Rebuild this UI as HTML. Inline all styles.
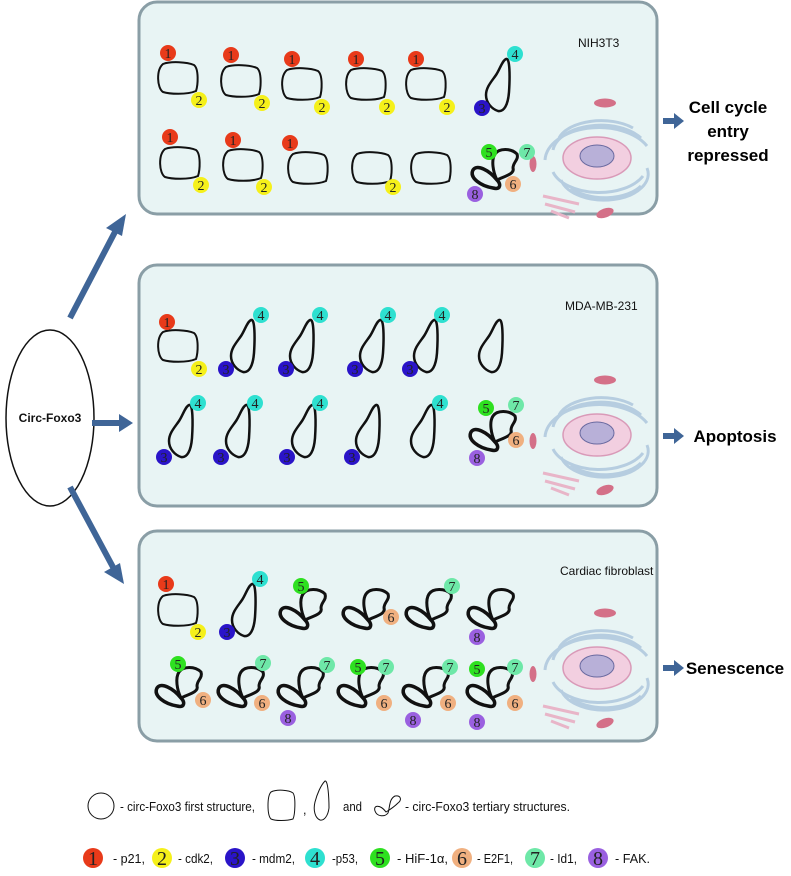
<!DOCTYPE html>
<html><head><meta charset="utf-8"><style>
html,body{margin:0;padding:0;background:#fff;}
svg{display:block;}
.b{font-family:"Liberation Serif",serif;font-size:14px;fill:#222;text-anchor:middle;}
.l{font-family:"Liberation Sans",sans-serif;font-size:12.5px;fill:#111;}
.r{font-family:"Liberation Sans",sans-serif;font-size:17px;font-weight:bold;fill:#000;text-anchor:middle;}
.g{font-family:"Liberation Serif",serif;font-size:20px;fill:#222;text-anchor:middle;}
</style></head><body>
<svg width="791" height="876" viewBox="0 0 791 876" xmlns="http://www.w3.org/2000/svg">
<defs>
<path id="sq" d="M6,4 C14,1 30,2 37,5 C42,9 41,25 39,31 C30,35 12,34 6,32 C0,28 -1,10 6,4Z" fill="none" stroke="#111" stroke-width="2"/>
<path id="td" d="M22,2 C26,0 26,20 25,35 C24,48 20,55 14,54 C8,52 2,46 2,38 C2,30 8,24 12,18 C16,12 18,4 22,2Z" fill="none" stroke="#111" stroke-width="2.5"/>
<g id="f8" fill="none" stroke="#111" stroke-width="3">
<path d="M26,32 C18,22 6,16 2,22 C-2,30 10,38 22,40 C30,42 30,36 26,32 Z" stroke-width="3.5"/>
<path d="M26,32 C22,24 20,12 24,6 C28,0 40,0 46,6 C48,12 42,14 42,20 C44,26 34,28 26,32"/>
</g>
<g id="cell">
<ellipse cx="0" cy="0" rx="34" ry="21" fill="#f2cfe0" stroke="#d99ab8" stroke-width="1.5"/>
<ellipse cx="0" cy="-2" rx="17" ry="11" fill="#b8b0d8" stroke="#6a6aa0" stroke-width="1"/>
<path d="M-44,-8 A48,28 0 0 1 44,-20" fill="none" stroke="#b6cde0" stroke-width="3"/>
<path d="M-52,2 A54,34 0 0 1 50,-12" fill="none" stroke="#b6cde0" stroke-width="3"/>
<path d="M-38,-20 A44,24 0 0 1 36,-30" fill="none" stroke="#b6cde0" stroke-width="3"/>
<path d="M-44,14 A48,28 0 0 0 46,18" fill="none" stroke="#b6cde0" stroke-width="3"/>
<path d="M-36,22 A44,26 0 0 0 50,10" fill="none" stroke="#b6cde0" stroke-width="3"/>
<path d="M-26,30 A42,24 0 0 0 44,28" fill="none" stroke="#b6cde0" stroke-width="3"/>
<path d="M-54,38 L-18,46 M-52,46 L-22,54 M-46,53 L-28,60" stroke="#e8b5c8" stroke-width="3" fill="none"/>
<ellipse cx="8" cy="-55" rx="11" ry="4.5" fill="#d47088"/>
<ellipse cx="-64" cy="6" rx="3.5" ry="8" fill="#d47088"/>
<ellipse cx="8" cy="55" rx="9" ry="4.5" fill="#d47088" transform="rotate(-20 8 55)"/>
</g>
</defs>

<rect x="139" y="2" width="518" height="212" rx="18" fill="#e8f4f4" stroke="#8a9ea6" stroke-width="3"/>
<rect x="139" y="265" width="518" height="241" rx="18" fill="#e8f4f4" stroke="#8a9ea6" stroke-width="3"/>
<rect x="139" y="531" width="518" height="210" rx="18" fill="#e8f4f4" stroke="#8a9ea6" stroke-width="3"/>

<text x="578" y="47" class="l" style="font-size:12px">NIH3T3</text>
<text x="565" y="310" class="l" style="font-size:12px">MDA-MB-231</text>
<text x="560" y="575" class="l" style="font-size:12px">Cardiac fibroblast</text>

<use href="#cell" transform="translate(597,158)"/>
<use href="#cell" transform="translate(597,435)"/>
<use href="#cell" transform="translate(597,668)"/>

<ellipse cx="50" cy="418" rx="44" ry="88" fill="#fff" stroke="#111" stroke-width="1.5"/>
<text x="50" y="422" class="l" style="font-size:12px;font-weight:bold;text-anchor:middle">Circ-Foxo3</text>
<g stroke="#3f6597" stroke-width="6">
<line x1="70" y1="318" x2="116" y2="230"/>
<line x1="92" y1="423" x2="120" y2="423"/>
<line x1="70" y1="487" x2="114" y2="569"/>
</g>
<polygon points="126,214 106,228 122,236" fill="#3f6597"/>
<polygon points="133,423 119,414 119,432" fill="#3f6597"/>
<polygon points="124,584 104,572 120,563" fill="#3f6597"/>

<g fill="#3f6597">
<rect x="663" y="118" width="12" height="6"/><polygon points="674,113 684,121 674,129"/>
<rect x="663" y="433" width="12" height="6"/><polygon points="674,428 684,436 674,444"/>
<rect x="663" y="665" width="12" height="6"/><polygon points="674,660 684,668 674,676"/>
</g>
<text x="728" y="113" class="r">Cell cycle</text>
<text x="728" y="137" class="r">entry</text>
<text x="728" y="161" class="r">repressed</text>
<text x="735" y="442" class="r">Apoptosis</text>
<text x="735" y="674" class="r">Senescence</text>

<use href="#sq" x="157" y="60"/><use href="#sq" x="220" y="63"/><use href="#sq" x="281" y="66"/><use href="#sq" x="345" y="66"/><use href="#sq" x="405" y="66"/>
<use href="#sq" x="159" y="145"/><use href="#sq" x="222" y="147"/><use href="#sq" x="287" y="150"/><use href="#sq" x="351" y="150"/><use href="#sq" x="410" y="150"/>
<use href="#td" x="484" y="57"/>
<use href="#f8" x="471" y="148"/>

<use href="#sq" x="157" y="328"/>
<use href="#td" x="229" y="318"/><use href="#td" x="288" y="318"/><use href="#td" x="358" y="318"/><use href="#td" x="412" y="318"/><use href="#td" x="477" y="318"/>
<use href="#td" x="167" y="403"/><use href="#td" x="224" y="403"/><use href="#td" x="290" y="403"/><use href="#td" x="354" y="403"/><use href="#td" x="409" y="403"/>
<use href="#f8" x="469" y="410"/>

<use href="#sq" x="157" y="592"/>
<use href="#td" x="230" y="582"/>
<use href="#f8" x="279" y="588"/><use href="#f8" x="342" y="588"/><use href="#f8" x="405" y="588"/><use href="#f8" x="467" y="588"/>
<use href="#f8" x="155" y="666"/><use href="#f8" x="217" y="666"/><use href="#f8" x="277" y="666"/><use href="#f8" x="337" y="666"/><use href="#f8" x="402" y="666"/><use href="#f8" x="466" y="666"/>

<g>
<circle cx="168" cy="53" r="8" fill="#e83a1a"/><text x="168" y="58" class="b">1</text>
<circle cx="199" cy="100" r="8" fill="#f5f01a"/><text x="199" y="105" class="b">2</text>
<circle cx="231" cy="55" r="8" fill="#e83a1a"/><text x="231" y="60" class="b">1</text>
<circle cx="262" cy="103" r="8" fill="#f5f01a"/><text x="262" y="108" class="b">2</text>
<circle cx="292" cy="59" r="8" fill="#e83a1a"/><text x="292" y="64" class="b">1</text>
<circle cx="322" cy="107" r="8" fill="#f5f01a"/><text x="322" y="112" class="b">2</text>
<circle cx="356" cy="59" r="8" fill="#e83a1a"/><text x="356" y="64" class="b">1</text>
<circle cx="387" cy="107" r="8" fill="#f5f01a"/><text x="387" y="112" class="b">2</text>
<circle cx="416" cy="59" r="8" fill="#e83a1a"/><text x="416" y="64" class="b">1</text>
<circle cx="447" cy="107" r="8" fill="#f5f01a"/><text x="447" y="112" class="b">2</text>
<circle cx="515" cy="54" r="8" fill="#2ee0d0"/><text x="515" y="59" class="b">4</text>
<circle cx="482" cy="108" r="8" fill="#2a14c8"/><text x="482" y="113" class="b">3</text>
<circle cx="170" cy="137" r="8" fill="#e83a1a"/><text x="170" y="142" class="b">1</text>
<circle cx="201" cy="185" r="8" fill="#f5f01a"/><text x="201" y="190" class="b">2</text>
<circle cx="233" cy="140" r="8" fill="#e83a1a"/><text x="233" y="145" class="b">1</text>
<circle cx="264" cy="187" r="8" fill="#f5f01a"/><text x="264" y="192" class="b">2</text>
<circle cx="290" cy="143" r="8" fill="#e83a1a"/><text x="290" y="148" class="b">1</text>
<circle cx="393" cy="187" r="8" fill="#f5f01a"/><text x="393" y="192" class="b">2</text>
<circle cx="489" cy="152" r="8" fill="#2ee020"/><text x="489" y="157" class="b">5</text>
<circle cx="527" cy="152" r="8" fill="#6ee8a8"/><text x="527" y="157" class="b">7</text>
<circle cx="513" cy="184" r="8" fill="#f0b080"/><text x="513" y="189" class="b">6</text>
<circle cx="475" cy="194" r="8" fill="#9a60e0"/><text x="475" y="199" class="b">8</text>

<circle cx="167" cy="322" r="8" fill="#e83a1a"/><text x="167" y="327" class="b">1</text>
<circle cx="199" cy="369" r="8" fill="#f5f01a"/><text x="199" y="374" class="b">2</text>
<circle cx="261" cy="315" r="8" fill="#2ee0d0"/><text x="261" y="320" class="b">4</text><circle cx="226" cy="369" r="8" fill="#2a14c8"/><text x="226" y="374" class="b">3</text>
<circle cx="320" cy="315" r="8" fill="#2ee0d0"/><text x="320" y="320" class="b">4</text><circle cx="286" cy="369" r="8" fill="#2a14c8"/><text x="286" y="374" class="b">3</text>
<circle cx="388" cy="315" r="8" fill="#2ee0d0"/><text x="388" y="320" class="b">4</text><circle cx="355" cy="369" r="8" fill="#2a14c8"/><text x="355" y="374" class="b">3</text>
<circle cx="442" cy="315" r="8" fill="#2ee0d0"/><text x="442" y="320" class="b">4</text><circle cx="410" cy="369" r="8" fill="#2a14c8"/><text x="410" y="374" class="b">3</text>
<circle cx="198" cy="403" r="8" fill="#2ee0d0"/><text x="198" y="408" class="b">4</text><circle cx="164" cy="457" r="8" fill="#2a14c8"/><text x="164" y="462" class="b">3</text>
<circle cx="255" cy="403" r="8" fill="#2ee0d0"/><text x="255" y="408" class="b">4</text><circle cx="221" cy="457" r="8" fill="#2a14c8"/><text x="221" y="462" class="b">3</text>
<circle cx="320" cy="403" r="8" fill="#2ee0d0"/><text x="320" y="408" class="b">4</text><circle cx="287" cy="457" r="8" fill="#2a14c8"/><text x="287" y="462" class="b">3</text>
<circle cx="352" cy="457" r="8" fill="#2a14c8"/><text x="352" y="462" class="b">3</text>
<circle cx="440" cy="403" r="8" fill="#2ee0d0"/><text x="440" y="408" class="b">4</text>
<circle cx="486" cy="408" r="8" fill="#2ee020"/><text x="486" y="413" class="b">5</text>
<circle cx="516" cy="405" r="8" fill="#6ee8a8"/><text x="516" y="410" class="b">7</text>
<circle cx="516" cy="440" r="8" fill="#f0b080"/><text x="516" y="445" class="b">6</text>
<circle cx="477" cy="458" r="8" fill="#9a60e0"/><text x="477" y="463" class="b">8</text>

<circle cx="166" cy="584" r="8" fill="#e83a1a"/><text x="166" y="589" class="b">1</text>
<circle cx="198" cy="632" r="8" fill="#f5f01a"/><text x="198" y="637" class="b">2</text>
<circle cx="260" cy="579" r="8" fill="#2ee0d0"/><text x="260" y="584" class="b">4</text><circle cx="227" cy="632" r="8" fill="#2a14c8"/><text x="227" y="637" class="b">3</text>
<circle cx="301" cy="586" r="8" fill="#2ee020"/><text x="301" y="591" class="b">5</text>
<circle cx="391" cy="617" r="8" fill="#f0b080"/><text x="391" y="622" class="b">6</text>
<circle cx="452" cy="586" r="8" fill="#6ee8a8"/><text x="452" y="591" class="b">7</text>
<circle cx="477" cy="637" r="8" fill="#9a60e0"/><text x="477" y="642" class="b">8</text>
<circle cx="178" cy="664" r="8" fill="#2ee020"/><text x="178" y="669" class="b">5</text><circle cx="203" cy="700" r="8" fill="#f0b080"/><text x="203" y="705" class="b">6</text>
<circle cx="263" cy="663" r="8" fill="#6ee8a8"/><text x="263" y="668" class="b">7</text><circle cx="262" cy="703" r="8" fill="#f0b080"/><text x="262" y="708" class="b">6</text>
<circle cx="327" cy="665" r="8" fill="#6ee8a8"/><text x="327" y="670" class="b">7</text><circle cx="288" cy="718" r="8" fill="#9a60e0"/><text x="288" y="723" class="b">8</text>
<circle cx="358" cy="667" r="8" fill="#2ee020"/><text x="358" y="672" class="b">5</text><circle cx="386" cy="667" r="8" fill="#6ee8a8"/><text x="386" y="672" class="b">7</text><circle cx="384" cy="703" r="8" fill="#f0b080"/><text x="384" y="708" class="b">6</text>
<circle cx="450" cy="667" r="8" fill="#6ee8a8"/><text x="450" y="672" class="b">7</text><circle cx="413" cy="720" r="8" fill="#9a60e0"/><text x="413" y="725" class="b">8</text><circle cx="448" cy="703" r="8" fill="#f0b080"/><text x="448" y="708" class="b">6</text>
<circle cx="477" cy="669" r="8" fill="#2ee020"/><text x="477" y="674" class="b">5</text><circle cx="515" cy="667" r="8" fill="#6ee8a8"/><text x="515" y="672" class="b">7</text><circle cx="515" cy="703" r="8" fill="#f0b080"/><text x="515" y="708" class="b">6</text><circle cx="477" cy="722" r="8" fill="#9a60e0"/><text x="477" y="727" class="b">8</text>
</g>

<circle cx="101" cy="806" r="13" fill="#fff" stroke="#111" stroke-width="1"/>
<text x="120" y="811" class="l" textLength="135" lengthAdjust="spacingAndGlyphs">- circ-Foxo3 first structure,</text>
<path d="M271,792 C277,789 289,790 293,793 C296,797 295,815 293,819 C287,821 275,821 271,819 C267,815 267,796 271,792Z" fill="#fff" stroke="#111" stroke-width="1"/>
<text x="303" y="814" class="l">,</text>
<path d="M325,781 C328,780 329,798 329,808 C328,816 324,821 320,820 C315,818 313,810 315,802 C317,794 321,785 325,781Z" fill="#fff" stroke="#111" stroke-width="1"/>
<text x="343" y="811" class="l" textLength="19" lengthAdjust="spacingAndGlyphs">and</text>
<path d="M386,812 C380,804 373,805 375,811 C377,817 385,817 388,813 C390,807 389,799 395,796 C401,795 402,800 398,803 C395,806 391,809 386,812Z" fill="none" stroke="#111" stroke-width="1"/>
<text x="405" y="811" class="l" textLength="165" lengthAdjust="spacingAndGlyphs">- circ-Foxo3 tertiary structures.</text>

<g>
<circle cx="93" cy="858" r="10" fill="#e83a1a"/><text x="93" y="865" class="g">1</text><text x="113" y="863" class="l" textLength="32" lengthAdjust="spacingAndGlyphs">- p21,</text>
<circle cx="162" cy="858" r="10" fill="#f5f01a"/><text x="162" y="865" class="g">2</text><text x="178" y="863" class="l" textLength="35" lengthAdjust="spacingAndGlyphs">- cdk2,</text>
<circle cx="235" cy="858" r="10" fill="#2a14c8"/><text x="235" y="865" class="g">3</text><text x="252" y="863" class="l" textLength="43" lengthAdjust="spacingAndGlyphs">- mdm2,</text>
<circle cx="315" cy="858" r="10" fill="#2ee0d0"/><text x="315" y="865" class="g">4</text><text x="332" y="863" class="l" textLength="26" lengthAdjust="spacingAndGlyphs">-p53,</text>
<circle cx="380" cy="858" r="10" fill="#2ee020"/><text x="380" y="865" class="g">5</text><text x="397" y="863" class="l" textLength="51" lengthAdjust="spacingAndGlyphs">- HiF-1α,</text>
<circle cx="462" cy="858" r="10" fill="#f0b080"/><text x="462" y="865" class="g">6</text><text x="477" y="863" class="l" textLength="36" lengthAdjust="spacingAndGlyphs">- E2F1,</text>
<circle cx="535" cy="858" r="10" fill="#6ee8a8"/><text x="535" y="865" class="g">7</text><text x="550" y="863" class="l" textLength="27" lengthAdjust="spacingAndGlyphs">- Id1,</text>
<circle cx="598" cy="858" r="10" fill="#9a60e0"/><text x="598" y="865" class="g">8</text><text x="615" y="863" class="l" textLength="35" lengthAdjust="spacingAndGlyphs">- FAK.</text>
</g>
</svg>
</body></html>
